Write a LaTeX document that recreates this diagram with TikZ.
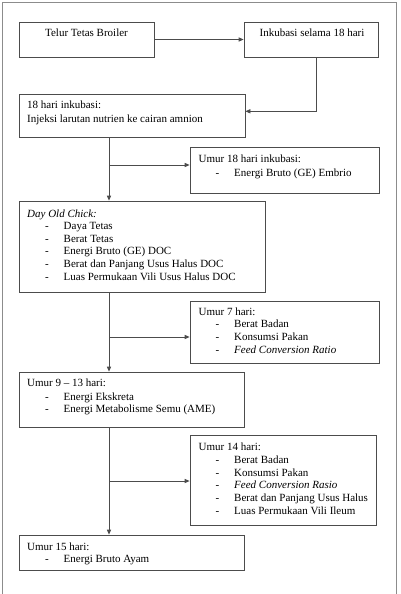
\documentclass[tikz,border=0pt]{standalone}
\usepackage{fontspec}
\setmainfont{Liberation Serif}
\usetikzlibrary{arrows.meta}
\tikzset{
  box/.style={draw=black!70, line width=0.8pt, inner sep=0pt, rectangle},
  txt/.style={inner sep=0pt, font=\fontsize{11}{12.7}\selectfont, text=black},
  arr/.style={draw=black!70, line width=0.8pt, -{Triangle[length=5pt,width=4.2pt]}},
  frame/.style={draw=black!45, line width=1pt}
}
\newcommand\bx[5]{\node[box, minimum width={(#4-#2)*1pt}, minimum height={(#5-#3)*1pt}] (#1) at ({(#2+#4)/2},{(#3+#5)/2}) {};}
\newcommand\hd[4]{\node[txt, anchor=base west] (#1) at (#2,#3) {#4};}
\newcommand\itm[4]{\node[txt, anchor=base west] (#1a) at (#2,#3) {-};\node[txt, anchor=base west] (#1b) at ({#2+18.5},#3) {#4};}
\begin{document}
\begin{tikzpicture}[x=1pt,y=-1pt]
\useasboundingbox (0,0) rectangle (400,594);
\draw[frame] (2,594) -- (2,3) -- (396.5,3) -- (396.5,594);
% boxes
\bx{b1}{19}{22}{154}{57}
\bx{b2}{244}{22}{378.5}{57}
\bx{b3}{19}{94}{245}{137}
\bx{e1}{190}{147}{379}{193}
\bx{b4}{19}{201}{265}{292}
\bx{e2}{190}{301}{379}{363}
\bx{b5}{19}{372}{244}{427}
\bx{e3}{190}{435}{376}{525}
\bx{b6}{19}{535}{244}{570}
% texts
\node[txt, anchor=base] (t1) at (86.5,36.5) {Telur Tetas Broiler};
\node[txt, anchor=base] (t2) at (312,36.5) {Inkubasi selama 18 hari};
\hd{t3}{27}{108}{18 hari inkubasi:}
\hd{t4}{27}{122}{Injeksi larutan nutrien ke cairan amnion}
\hd{t5}{198.5}{162}{Umur 18 hari inkubasi:}
\itm{t6}{215.5}{176}{Energi Bruto (GE) Embrio}
\hd{t7}{27}{217}{\itshape Day Old Chick:}
\itm{t8}{45}{229.5}{Daya Tetas}
\itm{t9}{45}{242}{Berat Tetas}
\itm{t10}{45}{254.5}{Energi Bruto (GE) DOC}
\itm{t11}{45}{267.2}{Berat dan Panjang Usus Halus DOC}
\itm{t12}{45}{280}{Luas Permukaan Vili Usus Halus DOC}
\hd{t13}{198.5}{315.7}{Umur 7 hari:}
\itm{t14}{215.5}{327.7}{Berat Badan}
\itm{t15}{215.5}{340.7}{Konsumsi Pakan}
\itm{t16}{215.5}{353.3}{\itshape Feed Conversion Ratio}
\hd{t17}{27}{386.7}{Umur 9 -- 13 hari:}
\itm{t18}{45}{400.7}{Energi Ekskreta}
\itm{t19}{45}{412.7}{Energi Metabolisme Semu (AME)}
\hd{t20}{198.5}{450.7}{Umur 14 hari:}
\itm{t21}{215.5}{463.3}{Berat Badan}
\itm{t22}{215.5}{476.3}{Konsumsi Pakan}
\itm{t23}{215.5}{488.7}{\itshape Feed Conversion Rasio}
\itm{t24}{215.5}{501.3}{Berat dan Panjang Usus Halus}
\itm{t25}{215.5}{514}{Luas Permukaan Vili Ileum}
\hd{t26}{27}{550}{Umur 15 hari:}
\itm{t27}{45}{562.7}{Energi Bruto Ayam}
% connector coordinates
\coordinate (c0) at (316,111.3);
\coordinate (tr) at (109,0);
\coordinate (p1) at (109,165);
\coordinate (p2) at (109,337);
\coordinate (p3) at (109,481);
% connectors
\draw[arr] (b1) -- (b2);
\draw[arr] (b2.south -| c0) -- (c0) -- (c0 -| b3.east);
\draw[arr] (b3.south -| tr) -- (b4.north -| tr);
\draw[arr] (p1) -- (p1 -| e1.west);
\draw[arr] (b4.south -| tr) -- (b5.north -| tr);
\draw[arr] (p2) -- (p2 -| e2.west);
\draw[arr] (b5.south -| tr) -- (b6.north -| tr);
\draw[arr] (p3) -- (p3 -| e3.west);
\end{tikzpicture}
\end{document}
